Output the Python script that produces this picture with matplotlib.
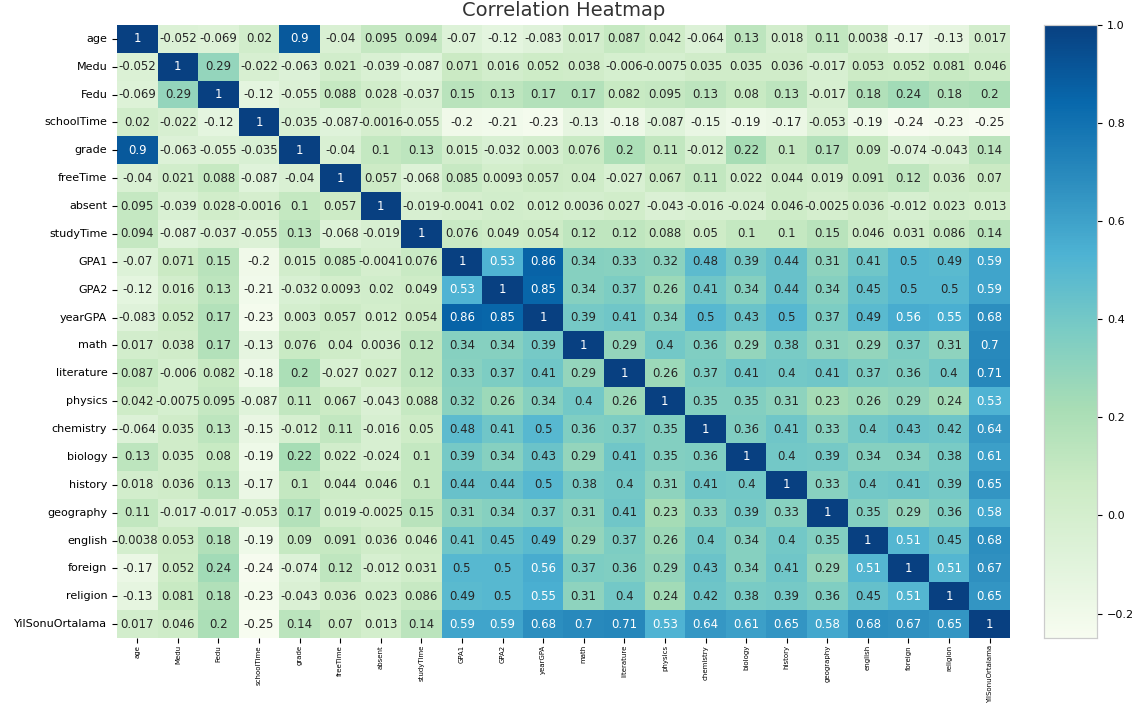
import numpy as np
import pandas as pd
import matplotlib
matplotlib.use("Agg")
import matplotlib.pyplot as plt
import seaborn as sns

labels = ["age", "Medu", "Fedu", "schoolTime", "grade", "freeTime", "absent",
          "studyTime", "GPA1", "GPA2", "yearGPA", "math", "literature", "physics",
          "chemistry", "biology", "history", "geography", "english", "foreign",
          "religion", "YilSonuOrtalama"]

# correlation rows
age = [1, -0.052, -0.069, 0.02, 0.9, -0.04, 0.095, 0.094, -0.07, -0.12, -0.083, 0.017, 0.087, 0.042, -0.064, 0.13, 0.018, 0.11, 0.0038, -0.17, -0.13, 0.017]
medu = [-0.052, 1, 0.29, -0.022, -0.063, 0.021, -0.039, -0.087, 0.071, 0.016, 0.052, 0.038, -0.006, -0.0075, 0.035, 0.035, 0.036, -0.017, 0.053, 0.052, 0.081, 0.046]
fedu = [-0.069, 0.29, 1, -0.12, -0.055, 0.088, 0.028, -0.037, 0.15, 0.13, 0.17, 0.17, 0.082, 0.095, 0.13, 0.08, 0.13, -0.017, 0.18, 0.24, 0.18, 0.2]
school_time = [0.02, -0.022, -0.12, 1, -0.035, -0.087, -0.0016, -0.055, -0.2, -0.21, -0.23, -0.13, -0.18, -0.087, -0.15, -0.19, -0.17, -0.053, -0.19, -0.24, -0.23, -0.25]
grade = [0.9, -0.063, -0.055, -0.035, 1, -0.04, 0.1, 0.13, 0.015, -0.032, 0.003, 0.076, 0.2, 0.11, -0.012, 0.22, 0.1, 0.17, 0.09, -0.074, -0.043, 0.14]
free_time = [-0.04, 0.021, 0.088, -0.087, -0.04, 1, 0.057, -0.068, 0.085, 0.0093, 0.057, 0.04, -0.027, 0.067, 0.11, 0.022, 0.044, 0.019, 0.091, 0.12, 0.036, 0.07]
absent = [0.095, -0.039, 0.028, -0.0016, 0.1, 0.057, 1, -0.019, -0.0041, 0.02, 0.012, 0.0036, 0.027, -0.043, -0.016, -0.024, 0.046, -0.0025, 0.036, -0.012, 0.023, 0.013]
study_time = [0.094, -0.087, -0.037, -0.055, 0.13, -0.068, -0.019, 1, 0.076, 0.049, 0.054, 0.12, 0.12, 0.088, 0.05, 0.1, 0.1, 0.15, 0.046, 0.031, 0.086, 0.14]
gpa1 = [-0.07, 0.071, 0.15, -0.2, 0.015, 0.085, -0.0041, 0.076, 1, 0.53, 0.86, 0.34, 0.33, 0.32, 0.48, 0.39, 0.44, 0.31, 0.41, 0.5, 0.49, 0.59]
gpa2 = [-0.12, 0.016, 0.13, -0.21, -0.032, 0.0093, 0.02, 0.049, 0.53, 1, 0.85, 0.34, 0.37, 0.26, 0.41, 0.34, 0.44, 0.34, 0.45, 0.5, 0.5, 0.59]
year_gpa = [-0.083, 0.052, 0.17, -0.23, 0.003, 0.057, 0.012, 0.054, 0.86, 0.85, 1, 0.39, 0.41, 0.34, 0.5, 0.43, 0.5, 0.37, 0.49, 0.56, 0.55, 0.68]
math = [0.017, 0.038, 0.17, -0.13, 0.076, 0.04, 0.0036, 0.12, 0.34, 0.34, 0.39, 1, 0.29, 0.4, 0.36, 0.29, 0.38, 0.31, 0.29, 0.37, 0.31, 0.7]
literature = [0.087, -0.006, 0.082, -0.18, 0.2, -0.027, 0.027, 0.12, 0.33, 0.37, 0.41, 0.29, 1, 0.26, 0.37, 0.41, 0.4, 0.41, 0.37, 0.36, 0.4, 0.71]
physics = [0.042, -0.0075, 0.095, -0.087, 0.11, 0.067, -0.043, 0.088, 0.32, 0.26, 0.34, 0.4, 0.26, 1, 0.35, 0.35, 0.31, 0.23, 0.26, 0.29, 0.24, 0.53]
chemistry = [-0.064, 0.035, 0.13, -0.15, -0.012, 0.11, -0.016, 0.05, 0.48, 0.41, 0.5, 0.36, 0.37, 0.35, 1, 0.36, 0.41, 0.33, 0.4, 0.43, 0.42, 0.64]
biology = [0.13, 0.035, 0.08, -0.19, 0.22, 0.022, -0.024, 0.1, 0.39, 0.34, 0.43, 0.29, 0.41, 0.35, 0.36, 1, 0.4, 0.39, 0.34, 0.34, 0.38, 0.61]
history = [0.018, 0.036, 0.13, -0.17, 0.1, 0.044, 0.046, 0.1, 0.44, 0.44, 0.5, 0.38, 0.4, 0.31, 0.41, 0.4, 1, 0.33, 0.4, 0.41, 0.39, 0.65]
geography = [0.11, -0.017, -0.017, -0.053, 0.17, 0.019, -0.0025, 0.15, 0.31, 0.34, 0.37, 0.31, 0.41, 0.23, 0.33, 0.39, 0.33, 1, 0.35, 0.29, 0.36, 0.58]
english = [0.0038, 0.053, 0.18, -0.19, 0.09, 0.091, 0.036, 0.046, 0.41, 0.45, 0.49, 0.29, 0.37, 0.26, 0.4, 0.34, 0.4, 0.35, 1, 0.51, 0.45, 0.68]
foreign = [-0.17, 0.052, 0.24, -0.24, -0.074, 0.12, -0.012, 0.031, 0.5, 0.5, 0.56, 0.37, 0.36, 0.29, 0.43, 0.34, 0.41, 0.29, 0.51, 1, 0.51, 0.67]
religion = [-0.13, 0.081, 0.18, -0.23, -0.043, 0.036, 0.023, 0.086, 0.49, 0.5, 0.55, 0.31, 0.4, 0.24, 0.42, 0.38, 0.39, 0.36, 0.45, 0.51, 1, 0.65]
yil_sonu = [0.017, 0.046, 0.2, -0.25, 0.14, 0.07, 0.013, 0.14, 0.59, 0.59, 0.68, 0.7, 0.71, 0.53, 0.64, 0.61, 0.65, 0.58, 0.68, 0.67, 0.65, 1]

rows = [age, medu, fedu, school_time, grade, free_time, absent, study_time,
        gpa1, gpa2, year_gpa, math, literature, physics, chemistry, biology,
        history, geography, english, foreign, religion, yil_sonu]
corr = pd.DataFrame(rows, index=labels, columns=labels)

fig = plt.figure(figsize=(11.36, 7.09), dpi=100)
ax = fig.add_axes([0.103, 0.1, 0.786, 0.865])
cax = fig.add_axes([0.919, 0.1, 0.047, 0.865])

sns.heatmap(corr, annot=True, fmt=".2g", cmap="GnBu", ax=ax, cbar_ax=cax,
            annot_kws={"fontsize": 8.5})
ax.set_title("Correlation Heatmap", fontsize=14, color="#333333")
ax.tick_params(axis="y", labelsize=8)
ax.tick_params(axis="x", labelsize=5.0, pad=1.5)
plt.setp(ax.get_xticklabels(), rotation=90)
plt.setp(ax.get_yticklabels(), rotation=0)
cax.tick_params(labelsize=8)
for s in cax.spines.values():
    s.set_visible(True)
    s.set_edgecolor("#cccccc")
    s.set_linewidth(0.8)

plt.savefig("out.png", dpi=100)
